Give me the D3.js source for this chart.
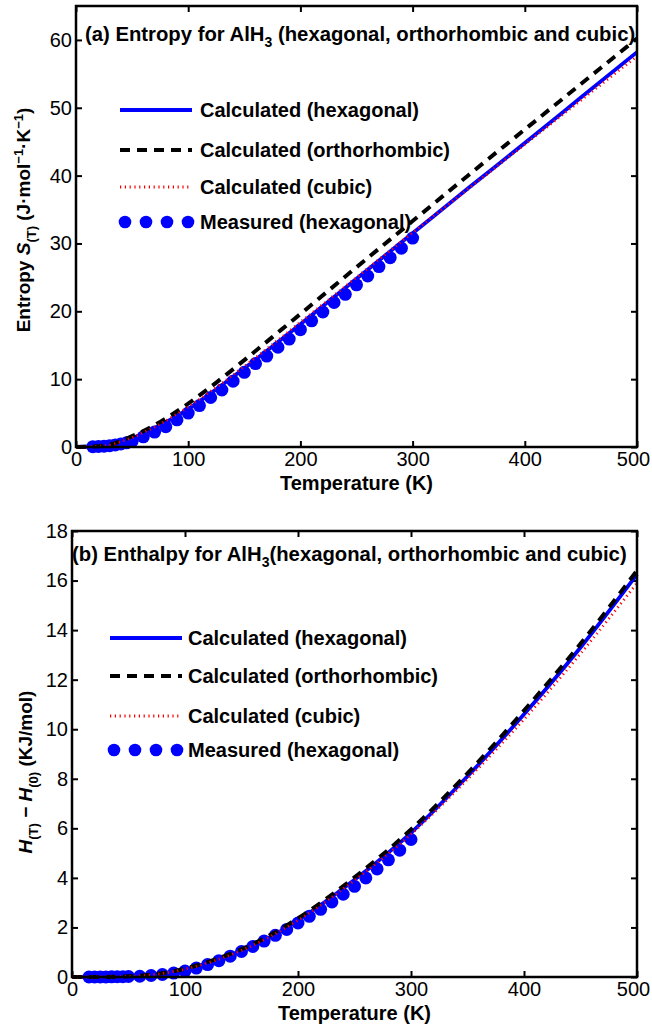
<!DOCTYPE html>
<html lang="en">
<head>
<meta charset="UTF-8" />
<title>AlH3 entropy and enthalpy</title>
<script src="https://d3js.org/d3.v7.min.js"></script>
<style>
  body { margin: 0; background: #fff; }
  svg { display: block; font-family: "Liberation Sans", Arial, sans-serif; }
  .tick text { font-size: 20px; fill: #000; }
  .tick line { stroke: #000; stroke-width: 2; }
  .lbl { font-weight: bold; font-size: 20px; fill: #000; }
  .ttl { font-weight: bold; font-size: 20.3px; fill: #000; }
  .ylbl { font-weight: bold; font-size: 19px; fill: #000; }
</style>
</head>
<body>
<div id="chart"></div>
<script>
// temperatures (K)
const tempCalc = [0, 25, 50, 75, 100, 125, 150, 175, 200, 250, 300, 350, 400, 450, 500];
const tempMeas = [15, 20, 25, 30, 35, 40, 45, 50, 60, 70, 80, 90, 100, 110, 120, 130, 140, 150,
  160, 170, 180, 190, 200, 210, 220, 230, 240, 250, 260, 270, 280, 290, 300];

// (a) entropy, J/mol/K
const entropyHex   = [0, 0.15, 1.3, 3.2, 5.6, 8.5, 11.6, 14.8, 18.1, 24.8, 31.5, 38.2, 44.8, 51.5, 58.2];
const entropyOrth  = [0, 0.2, 1.6, 3.7, 6.4, 9.5, 12.8, 16.2, 19.6, 26.5, 33.3, 40.1, 46.8, 53.5, 60.2];
const entropyCubic = [0, 0.17, 1.4, 3.4, 5.9, 8.8, 11.9, 15.1, 18.4, 25.0, 31.6, 38.1, 44.6, 51.1, 57.6];
const entropyMeas  = [0.05, 0.08, 0.12, 0.2, 0.3, 0.45, 0.62, 0.85, 1.5, 2.2, 3.0, 4.0, 5.0, 6.1, 7.3,
  8.4, 9.7, 11.0, 12.3, 13.4, 14.7, 15.9, 17.3, 18.6, 19.9, 21.3, 22.5, 23.9, 25.2, 26.6, 27.9, 29.3, 30.8];

// (b) enthalpy, kJ/mol
const enthalpyHex   = [0, 0.002, 0.02, 0.1, 0.3, 0.62, 1.05, 1.6, 2.28, 3.92, 5.82, 8.1, 10.6, 13.3, 16.25];
const enthalpyOrth  = [0, 0.003, 0.03, 0.12, 0.34, 0.68, 1.12, 1.68, 2.37, 4.02, 5.95, 8.22, 10.75, 13.45, 16.4];
const enthalpyCubic = [0, 0.002, 0.025, 0.11, 0.32, 0.64, 1.07, 1.62, 2.29, 3.9, 5.76, 7.98, 10.4, 13.05, 15.9];
const enthalpyMeas  = [0, 0.001, 0.002, 0.004, 0.007, 0.01, 0.015, 0.02, 0.03, 0.06, 0.1, 0.16, 0.24, 0.36,
  0.5, 0.66, 0.84, 1.03, 1.23, 1.45, 1.68, 1.92, 2.18, 2.45, 2.73, 3.03, 3.34, 3.66, 4.0, 4.36, 4.73, 5.12, 5.55];

const legendNames = ["Calculated (hexagonal)", "Calculated (orthorhombic)", "Calculated (cubic)", "Measured (hexagonal)"];
const xTicks = [0, 100, 200, 300, 400, 500];

const W = 652, H = 1031;
const svg = d3.select("#chart").append("svg").attr("width", W).attr("height", H);
svg.append("rect").attr("width", W).attr("height", H).attr("fill", "#fff");

const styles = {
  hex:   { stroke: "#0000ff", width: 3.8, dash: null },
  orth:  { stroke: "#000", width: 4, dash: "10,7" },
  cubic: { stroke: "#ff0000", width: 2.8, dash: "1.2,3.6" }
};

function drawPanel(p) {
  const g = svg.append("g");
  const x = d3.scaleLinear().domain([0, 500]).range([p.left, p.right]);
  const y = d3.scaleLinear().domain([0, p.yMax]).range([p.bottom, p.top]);

  // axes, MATLAB-style inward ticks on all four sides
  g.append("g").attr("transform", `translate(0,${p.bottom})`)
    .call(d3.axisBottom(x).tickValues(xTicks).tickSize(-6).tickPadding(5))
    .call(a => a.select(".domain").remove())
    .call(a => a.selectAll(".tick text").filter(d => d === 500).attr("dx", -4));
  g.append("g").attr("transform", `translate(0,${p.top})`)
    .call(d3.axisTop(x).tickValues(xTicks).tickSize(-6).tickFormat(""))
    .call(a => a.select(".domain").remove());
  g.append("g").attr("transform", `translate(${p.left},0)`)
    .call(d3.axisLeft(y).tickValues(p.yTicks).tickSize(-6).tickPadding(4))
    .call(a => a.select(".domain").remove());
  g.append("g").attr("transform", `translate(${p.right},0)`)
    .call(d3.axisRight(y).tickValues(p.yTicks).tickSize(-6).tickFormat(""))
    .call(a => a.select(".domain").remove());

  const line = d3.line().x((d, i) => x(tempCalc[i])).y(d => y(d)).curve(d3.curveMonotoneX);

  // measured points first, lines on top
  g.append("g").selectAll("circle").data(p.meas).join("circle")
    .attr("cx", (d, i) => x(tempMeas[i])).attr("cy", d => y(d)).attr("r", 6.5).attr("fill", "#0000ff");

  [["hex", p.hex], ["orth", p.orth], ["cubic", p.cubic]].forEach(([k, vals]) => {
    g.append("path").datum(vals).attr("d", line).attr("fill", "none")
      .attr("stroke", styles[k].stroke).attr("stroke-width", styles[k].width)
      .attr("stroke-dasharray", styles[k].dash);
  });

  g.append("rect").attr("x", p.left).attr("y", p.top)
    .attr("width", p.right - p.left).attr("height", p.bottom - p.top)
    .attr("fill", "none").attr("stroke", "#000").attr("stroke-width", 2.5);

  // title
  const t = g.append("text").attr("class", "ttl").attr("x", p.titleX).attr("y", p.titleY);
  t.append("tspan").text(p.titlePre);
  t.append("tspan").attr("dy", 6).attr("font-size", 14).text("3");
  t.append("tspan").attr("dy", -6).text(p.titlePost);

  // x label
  g.append("text").attr("class", "lbl").attr("text-anchor", "middle")
    .attr("x", (p.left + p.right) / 2).attr("y", p.bottom + 43).text("Temperature (K)");

  // y label
  const yl = g.append("text").attr("class", "ylbl").attr("text-anchor", "middle")
    .attr("transform", `translate(${p.yLabelX},${p.yLabelY}) rotate(-90)`);
  p.yLabel(yl);

  // legend
  const lg = g.append("g");
  const keys = ["hex", "orth", "cubic"];
  p.legRows.forEach((ry, i) => {
    if (i < 3) {
      lg.append("line").attr("x1", p.legX0).attr("x2", p.legX1).attr("y1", ry).attr("y2", ry)
        .attr("stroke", styles[keys[i]].stroke).attr("stroke-width", styles[keys[i]].width)
        .attr("stroke-dasharray", styles[keys[i]].dash);
    } else {
      p.legDots.forEach(dx => lg.append("circle").attr("cx", dx).attr("cy", ry).attr("r", 6.3).attr("fill", "#0000ff"));
    }
    lg.append("text").attr("class", "lbl").attr("x", p.legTextX).attr("y", ry).attr("dy", "0.35em")
      .text(legendNames[i]);
  });
}

drawPanel({
  left: 76, right: 637, top: 6, bottom: 447, yMax: 65, yTicks: d3.range(0, 61, 10),
  hex: entropyHex, orth: entropyOrth, cubic: entropyCubic, meas: entropyMeas,
  titleX: 85, titleY: 41, titlePre: "(a) Entropy for AlH", titlePost: " (hexagonal, orthorhombic and cubic)",
  yLabelX: 30, yLabelY: 220,
  yLabel: s => {
    s.append("tspan").text("Entropy ");
    s.append("tspan").attr("font-style", "italic").text("S");
    s.append("tspan").attr("dy", 6).attr("font-size", 13).text("(T)");
    s.append("tspan").attr("dy", -6).text(" (J·mol");
    s.append("tspan").attr("dy", -7).attr("font-size", 13).text("−1");
    s.append("tspan").attr("dy", 7).text("·K");
    s.append("tspan").attr("dy", -7).attr("font-size", 13).text("−1");
    s.append("tspan").attr("dy", 7).text(")");
  },
  legRows: [110, 150, 187, 222], legX0: 120, legX1: 192, legTextX: 200,
  legDots: [125, 146, 167, 188]
});

drawPanel({
  left: 72, right: 637, top: 531, bottom: 977, yMax: 18, yTicks: d3.range(0, 19, 2),
  hex: enthalpyHex, orth: enthalpyOrth, cubic: enthalpyCubic, meas: enthalpyMeas,
  titleX: 72, titleY: 561, titlePre: "(b) Enthalpy for AlH", titlePost: "(hexagonal, orthorhombic and cubic)",
  yLabelX: 32, yLabelY: 772,
  yLabel: s => {
    s.append("tspan").attr("font-style", "italic").text("H");
    s.append("tspan").attr("dy", 6).attr("font-size", 13).text("(T)");
    s.append("tspan").attr("dy", -6).text(" − ");
    s.append("tspan").attr("font-style", "italic").text("H");
    s.append("tspan").attr("dy", 6).attr("font-size", 13).text("(0)");
    s.append("tspan").attr("dy", -6).text(" (KJ/mol)");
  },
  legRows: [638, 676, 716, 750], legX0: 110, legX1: 182, legTextX: 188,
  legDots: [114, 135, 156, 177]
});
</script>
</body>
</html>
